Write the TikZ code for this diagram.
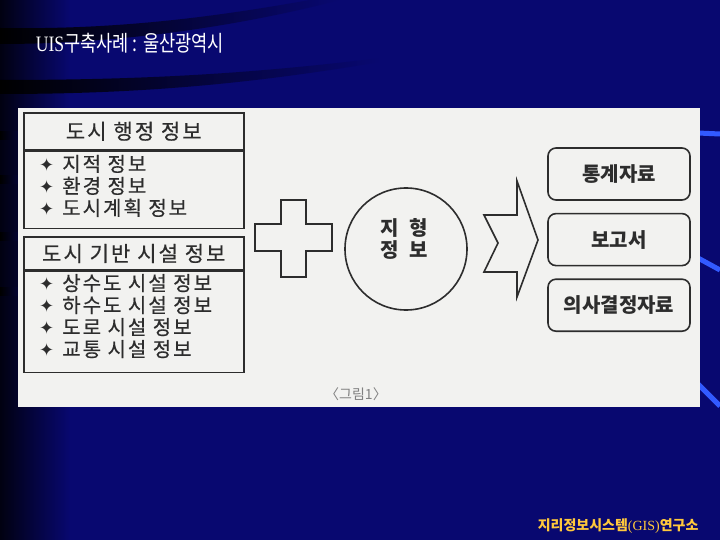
\documentclass[tikz,border=0pt]{standalone}
\usepackage{fontspec}
\setmainfont{Liberation Serif}
\newfontfamily\kr{Noto Sans CJK KR}
\newfontfamily\krw{Noto Sans CJK KR}[LetterSpace=10, FakeBold=0.5]
\newfontfamily\dv{DejaVu Sans}
\usetikzlibrary{positioning}
\definecolor{slidebg}{RGB}{8,8,112}
\definecolor{ink}{RGB}{45,45,45}
\definecolor{paper}{RGB}{242,242,240}
\definecolor{gold}{RGB}{255,200,60}
\definecolor{streak}{RGB}{50,90,255}
\newcommand{\dia}{{\dv\fontsize{18}{18}\selectfont ✦}\hspace{8pt}}
\tikzset{
	infohead/.style={draw=ink, line width=1.6pt, minimum width=220pt, inner sep=0pt, font=\krw\fontsize{21}{24}\selectfont, text=ink},
	infobody/.style={draw=ink, line width=1.6pt, minimum width=220pt, inner sep=0pt},
	infolist/.style={anchor=west, align=left, inner sep=0pt, font=\krw\fontsize{20}{22}\selectfont, text=ink},
	outbox/.style={draw=ink, line width=1.6pt, rounded corners=8pt, minimum width=142pt, minimum height=52pt, font=\kr\bfseries\fontsize{20}{22}\selectfont, text=ink},
}
\begin{document}
\begin{tikzpicture}[x=1pt,y=-1pt]
	\useasboundingbox (0,0) rectangle (720,540);
	\fill[slidebg] (0,0) rectangle (720,540);
	\shade[left color=black!85!slidebg, right color=slidebg] (0,0) rectangle (70,540);
	\shade[left color=black, right color=slidebg] (0,28) .. controls (120,30) and (220,16) .. (310,0) -- (340,0) .. controls (240,26) and (120,44) .. (0,44) -- cycle;
	\shade[left color=black, right color=slidebg] (0,80) .. controls (140,80) and (250,74) .. (380,58) -- (380,62) .. controls (250,84) and (140,94) .. (0,94) -- cycle;
	\foreach \y in {136,180,236,291}
		\shade[left color=black, right color=black!50!slidebg] (0,\y-4) rectangle (20,\y+4);
	\draw[streak, line width=5pt] (698,133) -- (720,134);
	\draw[streak, line width=5pt] (698,258) -- (720,270);
	\draw[streak, line width=5pt] (698,384) -- (720,406);
	\fill[paper] (18,108) rectangle (700,407);

	\node[anchor=base west, text=white, font=\fontsize{22}{24}\selectfont, xscale=0.8] (title) at (33,52) {UIS{\kr 구축사례 : 울산광역시}};
	\node[anchor=base east, text=gold, font=\fontsize{14}{16}\selectfont] (footer) at (702,530) {{\kr\bfseries 지리정보시스템}(GIS){\kr\bfseries 연구소}};

	\node[infohead, anchor=north west, minimum height=37pt] (adminhead) at (23,112) {도시 행정 정보};
	\node[infobody, minimum height=77pt, below=0pt of adminhead] (adminbody) {};
	\node[infolist] (adminlist) at ([xshift=16pt, yshift=4pt]adminbody.west) {\dia 지적 정보\\\dia 환경 정보\\\dia 도시계획 정보};
	\node[infohead, minimum height=33pt, below=7pt of adminbody] (infrahead) {도시 기반 시설 정보};
	\node[infobody, minimum height=101pt, below=0pt of infrahead] (infrabody) {};
	\node[infolist] (infralist) at ([xshift=16pt, yshift=6pt]infrabody.west) {\dia 상수도 시설 정보\\\dia 하수도 시설 정보\\\dia 도로 시설 정보\\\dia 교통 시설 정보};

	\draw[ink, line width=1.6pt] (281,200) -- (306,200) -- (306,224) -- (332,224) -- (332,251) -- (306,251) -- (306,277) -- (281,277) -- (281,251) -- (255,251) -- (255,224) -- (281,224) -- cycle;
	\node[circle, draw=ink, line width=1.6pt, minimum size=122pt] (terrain) at (406,249) {};
	\node[align=center, font=\kr\bfseries\fontsize{20}{22}\selectfont, text=ink] (terraintext) at ([xshift=-2pt, yshift=10pt]terrain.center) {지\hspace{10pt}형\\정\hspace{10pt}보};
	\draw[ink, line width=1.6pt] (484,215) -- (517,215) -- (517,181) -- (538,240) -- (517,297) -- (517,272) -- (484,272) -- (498,243) -- cycle;

	\node[outbox] (stats) at (619,174) {통계자료};
	\node[outbox, below=12pt of stats] (report) {보고서};
	\node[outbox, below=12pt of report] (decision) {의사결정자료};
	\node[text=gray, font=\kr\fontsize{14}{16}\selectfont] (caption) at (356,394) {〈그림1〉};
\end{tikzpicture}
\end{document}
